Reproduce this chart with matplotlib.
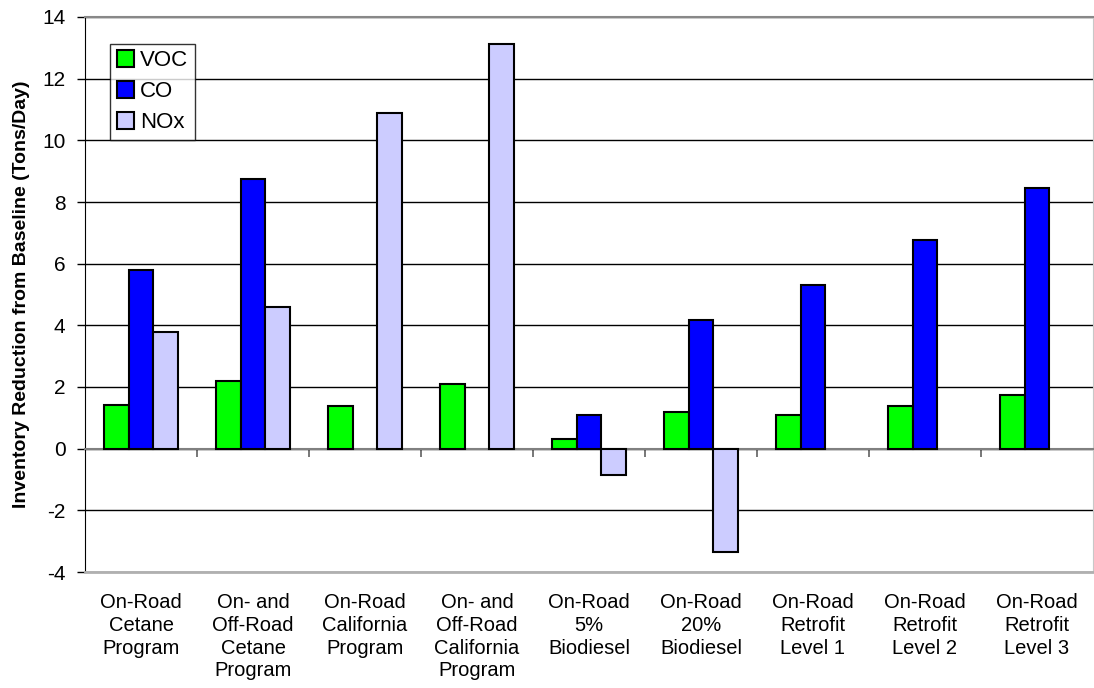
import numpy as np
import matplotlib
matplotlib.use("Agg")
import matplotlib.pyplot as plt
import matplotlib.transforms as mtransforms

plt.rcParams["font.family"] = ["Liberation Sans", "DejaVu Sans"]
plt.rcParams["axes.unicode_minus"] = False

categories = [
    "On-Road\nCetane\nProgram",
    "On- and\nOff-Road\nCetane\nProgram",
    "On-Road\nCalifornia\nProgram",
    "On- and\nOff-Road\nCalifornia\nProgram",
    "On-Road\n5%\nBiodiesel",
    "On-Road\n20%\nBiodiesel",
    "On-Road\nRetrofit\nLevel 1",
    "On-Road\nRetrofit\nLevel 2",
    "On-Road\nRetrofit\nLevel 3",
]
nan = np.nan
voc = [1.43, 2.20, 1.40, 2.10, 0.32, 1.18, 1.08, 1.40, 1.75]
co = [5.80, 8.75, nan, nan, 1.10, 4.17, 5.32, 6.78, 8.47]
nox = [3.77, 4.58, 10.88, 13.13, -0.84, -3.34, nan, nan, nan]
series = [("VOC", voc, "#00ff00"), ("CO", co, "#0000ff"), ("NOx", nox, "#ccccff")]

fig = plt.figure(figsize=(10.94, 6.88), dpi=100)
ax = fig.add_axes([85 / 1094, 1 - 572 / 688, 1008 / 1094, 555 / 688])

x = np.arange(len(categories))
w = 0.222
for i, (name, vals, col) in enumerate(series):
    ax.bar(x + (i - 1) * w, vals, w, color=col, edgecolor="black",
           linewidth=1.5, label=name, zorder=3)

ax.set_xlim(-0.5, len(categories) - 0.5)
ax.set_ylim(-4, 14)
ax.set_yticks(np.arange(-4, 15, 2))
ax.tick_params(axis="y", labelsize=15, length=6, width=1, pad=8)
ax.yaxis.grid(True, color="black", linewidth=1)
ax.set_axisbelow(True)

# category axis sits on the zero line
ax.spines["bottom"].set_position(("data", 0))
ax.spines["bottom"].set_color("#808080")
ax.spines["bottom"].set_linewidth(1.5)
ax.set_xticks(np.arange(0.5, len(categories) - 0.5, 1.0))
ax.set_xticklabels([])
ax.tick_params(axis="x", direction="out", length=6, width=1.2, color="#606060")
ax.spines["top"].set_color("#888888")
ax.spines["top"].set_linewidth(1.5)
ax.spines["right"].set_color("#c8c8c8")
ax.spines["left"].set_color("black")
ax.axhline(-4, color="#b0b0b0", linewidth=2, zorder=4, clip_on=False)

trans = mtransforms.blended_transform_factory(ax.transData, ax.transAxes)
for xi, lab in zip(x, categories):
    ax.text(xi, -0.038, lab, transform=trans, ha="center", va="top",
            fontsize=14.5, linespacing=1.25)

ax.set_ylabel("Inventory Reduction from Baseline (Tons/Day)", fontsize=14,
              fontweight="bold")
ax.yaxis.set_label_coords(-0.055, 0.5)

leg = ax.legend(loc="upper left", bbox_to_anchor=(0.025, 0.952), fontsize=16,
                frameon=True, fancybox=False, edgecolor="black",
                handlelength=0.75, handleheight=0.75, handletextpad=0.3,
                borderpad=0.3, labelspacing=0.45, borderaxespad=0)
leg.get_frame().set_linewidth(1)

fig.savefig("out.png", dpi=100, facecolor="white")
